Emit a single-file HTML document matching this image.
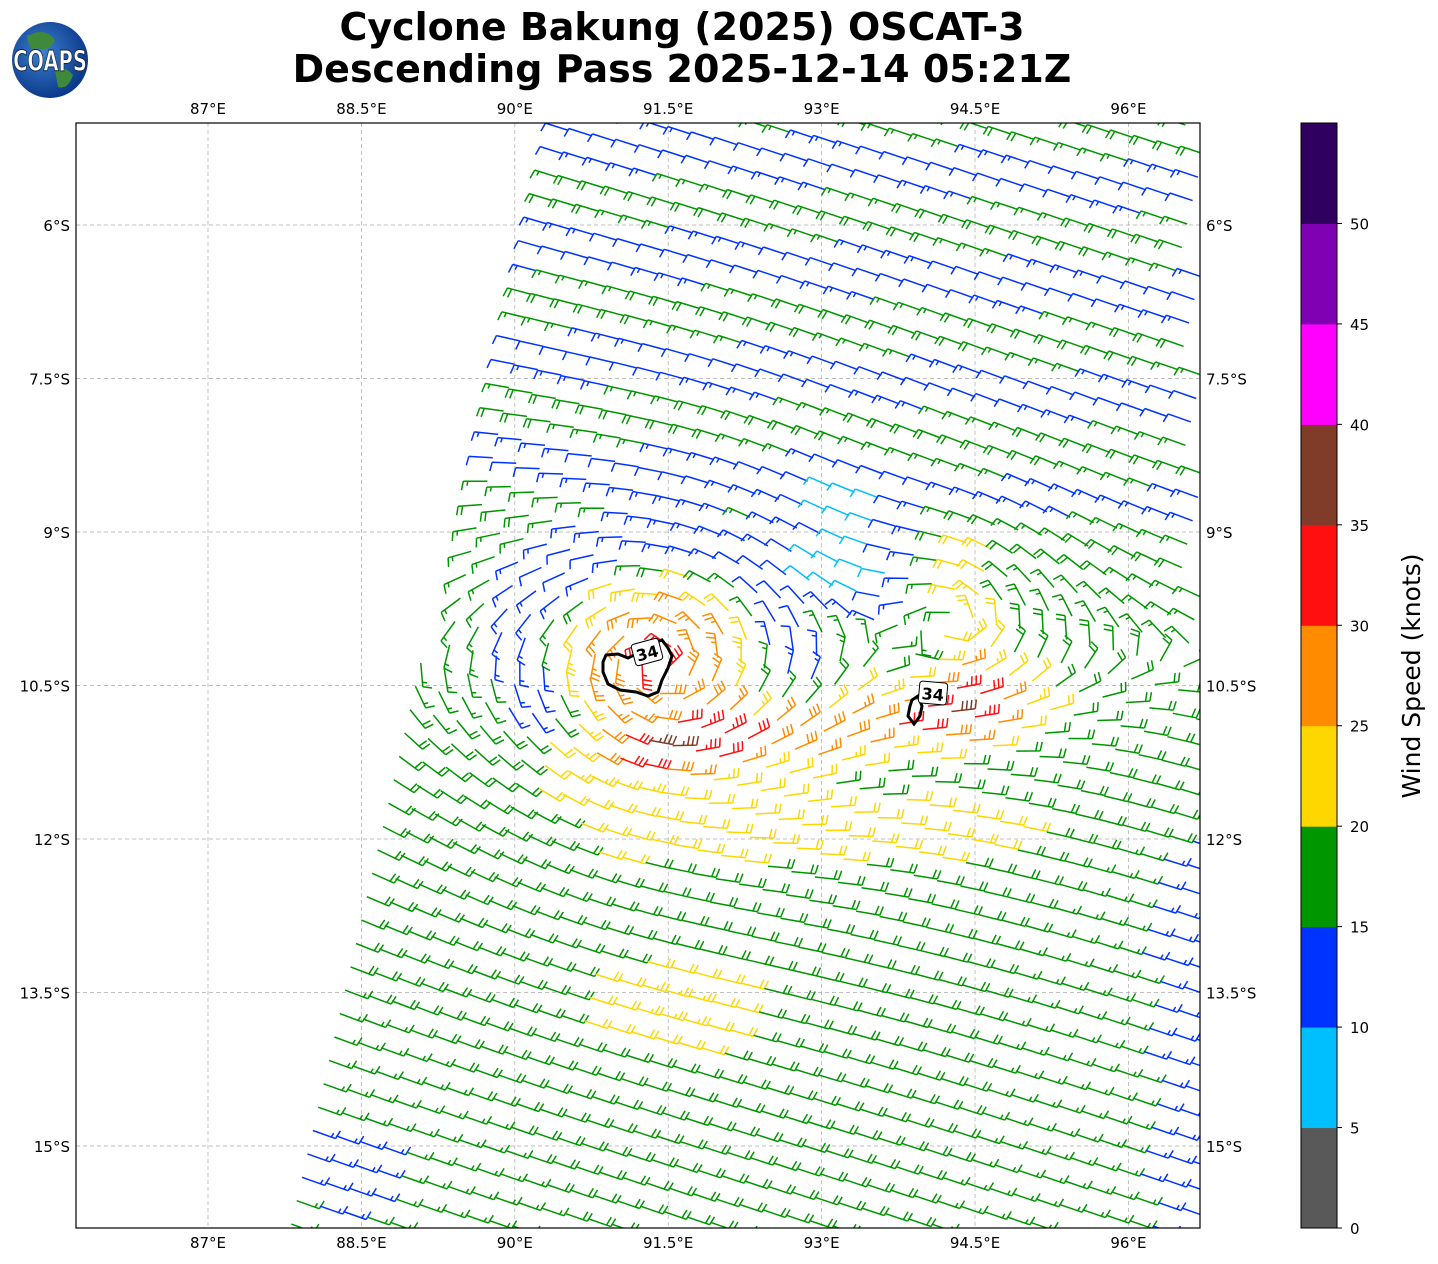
<!DOCTYPE html>
<html><head><meta charset="utf-8">
<style>
body{margin:0;background:#fff;}
svg{display:block;font-family:"DejaVu Sans","Liberation Sans",sans-serif;}
</style></head>
<body>
<svg id="s" width="1438" height="1264" xmlns="http://www.w3.org/2000/svg">
<defs><clipPath id="cp"><rect x="76" y="123" width="1124" height="1105"/></clipPath>
<radialGradient id="gl" cx="40%" cy="40%" r="60%"><stop offset="0" stop-color="#3d7fd0"/><stop offset="1" stop-color="#0b3a8a"/></radialGradient></defs>
<rect width="1438" height="1264" fill="#fff"/>
<text x="682" y="40" text-anchor="middle" font-size="38" font-weight="bold">Cyclone Bakung (2025) OSCAT-3</text>
<text x="682" y="82" text-anchor="middle" font-size="38" font-weight="bold">Descending Pass 2025-12-14 05:21Z</text>
<circle cx="50" cy="60" r="38" fill="url(#gl)"/>
<path d="M30 35 q15 -8 25 5 q-5 12 -18 8 q-8 5 -10 -13z M55 70 q10 -5 18 5 q-5 15 -15 12z" fill="#3f8a3a"/>
<text x="50" y="70" text-anchor="middle" font-size="26" font-weight="bold" fill="#fff" stroke="#123" stroke-width="0.8" transform="translate(50 60) scale(0.75,1.1) translate(-50 -60)">COAPS</text>
<g id="grid"></g>
<g id="barbs" clip-path="url(#cp)"></g>
<g id="cont" clip-path="url(#cp)">
<path d="M606 655 L618 654 L628 658 L640 652 L652 644 L662 640 L668 648 L672 656 L668 668 L662 680 L658 692 L648 696 L636 692 L620 690 L608 684 L603 672 L603 662 Z" fill="none" stroke="#000" stroke-width="3"/>
<path d="M912 700 L918 696 L922 706 L920 716 L914 724 L908 716 L910 706 Z" fill="none" stroke="#000" stroke-width="3"/>
<g transform="rotate(-15 647 652)"><rect x="633" y="641" width="28" height="22" rx="3" fill="#fff" stroke="#000"/><text x="647" y="659" text-anchor="middle" font-size="16" font-weight="bold">34</text></g>
<g transform="rotate(5 933 693)"><rect x="919" y="682" width="28" height="22" rx="3" fill="#fff" stroke="#000"/><text x="933" y="700" text-anchor="middle" font-size="16" font-weight="bold">34</text></g>
</g>
<rect x="76" y="123" width="1124" height="1105" fill="none" stroke="#000" stroke-width="1.2"/>
<g id="cb"></g>
<text transform="translate(1420 676) rotate(-90)" text-anchor="middle" font-size="25">Wind Speed (knots)</text>
</svg>
<script>
var NS="http://www.w3.org/2000/svg";
function el(t,a,p){var e=document.createElementNS(NS,t);for(var k in a)e.setAttribute(k,a[k]);(p||document.getElementById('s')).appendChild(e);return e;}
function X(lon){return 208+(lon-87)*102.27;}
function Y(ls){return 225+(ls-6)*102.33;}
function LON(x){return 87+(x-208)/102.27;}
function LAT(y){return -(6+(y-225)/102.33);}
var g=document.getElementById('grid');
var lons=[87,88.5,90,91.5,93,94.5,96],lats=[6,7.5,9,10.5,12,13.5,15];
lons.forEach(function(l){var x=X(l);el('line',{x1:x,y1:123,x2:x,y2:1228,stroke:'#aaa','stroke-width':0.7,'stroke-dasharray':'4,3'},g);
 var t=l+'°E';el('text',{x:x,y:114,'text-anchor':'middle','font-size':15},g).textContent=t;
 el('text',{x:x,y:1248,'text-anchor':'middle','font-size':15},g).textContent=t;});
lats.forEach(function(l){var y=Y(l);el('line',{x1:76,y1:y,x2:1200,y2:y,stroke:'#aaa','stroke-width':0.7,'stroke-dasharray':'4,3'},g);
 var t=l+'°S';el('text',{x:70,y:y+6,'text-anchor':'end','font-size':15},g).textContent=t;
 el('text',{x:1206,y:y+6,'font-size':15},g).textContent=t;});
var cols=['#595959','#00bfff','#0033ff','#009600','#ffd700','#ff8c00','#ff0f0f','#803c28','#ff00ff','#8000b4','#300060'];
var cb=document.getElementById('cb');var h=1105/11;
for(var i=0;i<11;i++){el('rect',{x:1301,y:1228-(i+1)*h,width:36,height:h+0.5,fill:cols[i]},cb);}
el('rect',{x:1301,y:123,width:36,height:1105,fill:'none',stroke:'#000'},cb);
for(var i=0;i<=10;i++){var y=1228-i*h;el('line',{x1:1337,y1:y,x2:1342,y2:y,stroke:'#000'},cb);el('text',{x:1350,y:y+6,'font-size':15},cb).textContent=(i*5);}
function speed(lon,lat){
 var d1=Math.hypot(lon-91.4,lat+10.3),d2=Math.hypot(lon-94.2,lat+10.6);
 var s=17.5;
 s+=17*Math.exp(-d1*d1/0.2);
 s+=7*Math.exp(-Math.pow(d1-0.75,2)/0.08);
 var sm=1/(1+Math.exp(-(lon-90.5)/0.3))*(1/(1+Math.exp((lon-95)/0.3)));
 var bl=lat+11.2-0.12*(lon-91);
 s+=12*Math.exp(-bl*bl/0.1)*sm;
 s+=5*Math.exp(-(lat+11.9)*(lat+11.9)/0.15)*sm;
 s+=6*Math.exp(-(lon-94.5)*(lon-94.5)/0.1-(lat+9.8)*(lat+9.8)/1.0);
 s-=10*Math.exp(-(lon-93.3)*(lon-93.3)/0.4-(lat+9.2)*(lat+9.2)/0.5);
 s-=5/(1+Math.exp(-(lat+8.9)/0.3))*(0.5+0.8*Math.sin(lat*6+lon*0.5));
 s-=5*Math.exp(-Math.pow(d1-1.3,2)/0.15)*(lat>-10.8?1:0)*(lon<93?1:0);
 s+=6*Math.exp(-(lon-91.5)*(lon-91.5)/0.9-(lat+13.6)*(lat+13.6)/0.3);
 if(lat<-12)s-=5*Math.exp(-(lon-96.6)*(lon-96.6)/0.35);
 s-=5*Math.exp(-((lon-88.3)*(lon-88.3)+(lat+15.2)*(lat+15.2))/0.3);
 s+=10*Math.exp(-d2*d2/0.12);
 return s;}
function vel(lon,lat){
 var sg=1/(1+Math.exp(-(lat+10.3)/0.8));
 var u=-1+1.9*sg,v=0.35-0.65*sg;
 var rx=lon-91.4,ry=lat+10.3,d=Math.hypot(rx,ry)+0.01,w=1.5*d/(d*d+0.3)*Math.exp(-d*d/12);
 u+=ry/d*w;v+=-rx/d*w;
 var rx2=lon-94.4,ry2=lat+9.8,d2=Math.hypot(rx2,ry2)+0.01,w2=0.7*d2/(d2*d2+0.3)*Math.exp(-d2*d2/2);
 u+=ry2/d2*w2;v+=-rx2/d2*w2;
 return [u,v];}
function xl(y){return 545-(y-125)*0.2312;}
var B=document.getElementById('barbs');
var ca=Math.cos(13*Math.PI/180),sa=Math.sin(13*Math.PI/180);
var cross=[ca,sa],along=[-sa,ca];
var ox=545,oy=125,sp=24;
for(var j=-15;j<55;j++)for(var i=0;i<60;i++){
 var px=ox+i*sp*cross[0]+j*sp*along[0],py=oy+i*sp*cross[1]+j*sp*along[1];
 if(px<70||px>1205||py<118||py>1235)continue;
 var lon=LON(px),lat=LAT(py);
 var vv=vel(lon,lat);var fx=-vv[0],fy=vv[1];var n=Math.hypot(fx,fy)||1;fx/=n;fy/=n;
 var L=24,ex=px+fx*L,ey=py+fy*L;
 if(px<xl(py)-2||ex<xl(ey)-2)continue;
 var s=speed(lon,lat);if(s<1)s=1;var ci=Math.min(10,Math.floor(s/5));var c=cols[ci];
 var d='M'+px.toFixed(1)+' '+py.toFixed(1)+'L'+ex.toFixed(1)+' '+ey.toFixed(1);
 var kn=Math.round(s/5)*5,full=Math.floor(kn/10),half=(kn%10)?1:0;
 var pxp=fy,pyp=-fx;
 var pos=0;
 for(var k=0;k<full;k++){var qx=ex-fx*pos,qy=ey-fy*pos;d+='M'+qx.toFixed(1)+' '+qy.toFixed(1)+'L'+(qx+pxp*9+fx*2).toFixed(1)+' '+(qy+pyp*9+fy*2).toFixed(1);pos+=4.5;}
 if(half){if(full==0)pos=4.5;var qx=ex-fx*pos,qy=ey-fy*pos;d+='M'+qx.toFixed(1)+' '+qy.toFixed(1)+'L'+(qx+pxp*4.5+fx*1).toFixed(1)+' '+(qy+pyp*4.5+fy*1).toFixed(1);}
 el('path',{d:d,stroke:c,'stroke-width':1.5,fill:'none'},B);
}
</script>
</body></html>
